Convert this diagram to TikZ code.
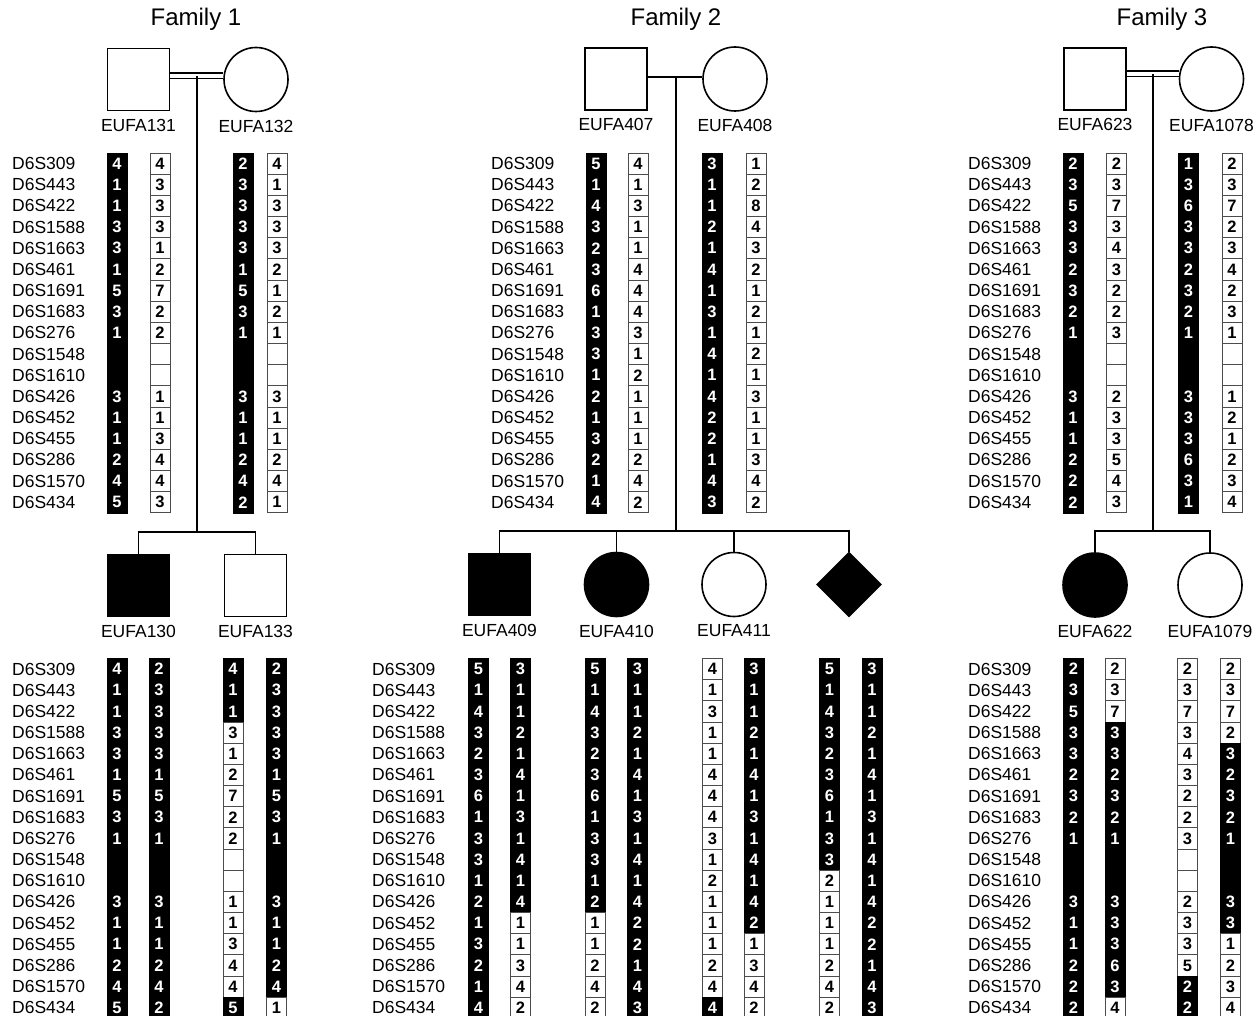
\documentclass[tikz,border=0pt]{standalone}
\usepackage{fontspec}
\setmainfont{Liberation Sans}
\usepackage{tikz}
\usetikzlibrary{positioning,shapes.geometric}

\newcommand{\lblfont}{\fontsize{17.5}{17.5}\selectfont}
\newcommand{\titlefont}{\fontsize{24}{24}\selectfont}
\newcommand{\digitfont}{\fontsize{16.5}{16.5}\selectfont\bfseries}
\newcommand{\rowh}{21.17}
\newcommand{\markerlist}{D6S309,D6S443,D6S422,D6S1588,D6S1663,D6S461,D6S1691,D6S1683,D6S276,D6S1548,D6S1610,D6S426,D6S452,D6S455,D6S286,D6S1570,D6S434}

% one allele cell: b = black (disease haplotype), w = white
\def\hapcell#1#2\relax#3#4#5#6{%
  \node[cell#1] (#3-#4) at (#5,{#6+(#4-0.5)*\rowh}) {#2};}
\newcommand{\hapcol}[4]{%
  \foreach \e [count=\n] in {#4}{\expandafter\hapcell\e\relax{#1}{\n}{#2}{#3}}}
\newcommand{\markcol}[3]{%
  \foreach \m [count=\n] in \markerlist{\node[mk] (#1-\n) at (#2,{#3+(\n-0.5)*\rowh}) {\m};}}

\begin{document}
\begin{tikzpicture}[x=1pt, y=-1pt,
    male/.style={rectangle, draw, line width=1.6pt, minimum size=62pt, inner sep=0pt},
    female/.style={circle, draw, line width=1.6pt, minimum size=64pt, inner sep=0pt},
    unkn/.style={diamond, draw, line width=1.6pt, minimum size=64pt, aspect=1, inner sep=0pt},
    aff/.style={fill=black},
    conn/.style={line width=1.6pt},
    dbl/.style={double, double distance=4pt, line width=1.5pt},
    lbl/.style={font=\lblfont},
    mk/.style={anchor=west, inner sep=0pt, font=\lblfont},
    famtitle/.style={font=\titlefont},
    cellb/.style={fill=black, draw=black, line width=0.4pt, text=white, minimum width=20pt,
      minimum height=21.17pt, inner sep=0pt, font=\digitfont},
    cellw/.style={fill=white, draw=black!70, line width=0.8pt, text=black, minimum width=20pt,
      minimum height=21.17pt, inner sep=0pt, font=\digitfont}]
  \useasboundingbox (0,0) rectangle (1258,1016);

  % titles
  \node[famtitle] (t1) at (196,19)  {Family 1};
  \node[famtitle] (t2) at (676,19)  {Family 2};
  \node[famtitle] (t3) at (1162,19) {Family 3};

  % ---- Family 1 ----
  \node[male]   (f1fa) at (138.5,79.5) {};
  \node[female] (f1mo) at (256,79.5)   {};
  \node[lbl, below=4pt of f1fa] (f1faL) {EUFA131};
  \node[lbl, below=4pt of f1mo] (f1moL) {EUFA132};
  \node[male, aff] (f1c1) at (138.5,585.5) {};
  \node[male]      (f1c2) at (255.5,585.5) {};
  \node[lbl, below=4pt of f1c1] (f1c1L) {EUFA130};
  \node[lbl, below=4pt of f1c2] (f1c2L) {EUFA133};
  \coordinate (f1m) at (197,76);
  \coordinate (f1s) at (197,532);
  \draw[dbl] ([yshift=3.5pt]f1fa.east) -- ([yshift=3.5pt]f1mo.west);
  \draw[conn] (f1m) -- (f1s);
  \draw[conn] (f1c1.north) |- (f1s) -| (f1c2.north);

  % ---- Family 2 ----
  \node[male]   (f2fa) at (616,79) {};
  \node[female] (f2mo) at (735,79) {};
  \node[lbl, below=4pt of f2fa] (f2faL) {EUFA407};
  \node[lbl, below=4pt of f2mo] (f2moL) {EUFA408};
  \node[male, aff]   (f2c1) at (499.5,584.5) {};
  \node[female, aff] (f2c2) at (616.5,584.5) {};
  \node[female]      (f2c3) at (734,584.5)   {};
  \node[unkn, aff]   (f2c4) at (849,584.5)   {};
  \node[lbl, below=4pt of f2c1] (f2c1L) {EUFA409};
  \node[lbl, below=4pt of f2c2] (f2c2L) {EUFA410};
  \node[lbl, below=4pt of f2c3] (f2c3L) {EUFA411};
  \coordinate (f2m) at (676,77);
  \coordinate (f2s) at (676,531);
  \draw[conn] ([yshift=2pt]f2fa.east) -- ([yshift=2pt]f2mo.west);
  \draw[conn] (f2m) -- (f2s);
  \draw[conn] (f2c1.north) |- (f2s) -| (f2c4.north);
  \draw[conn] (f2c2.north) -- (f2c2.north |- f2s);
  \draw[conn] (f2c3.north) -- (f2c3.north |- f2s);

  % ---- Family 3 ----
  \node[male]   (f3fa) at (1095,79)   {};
  \node[female] (f3mo) at (1211.5,79) {};
  \node[lbl, below=4pt of f3fa] (f3faL) {EUFA623};
  \node[lbl, below=4pt of f3mo] (f3moL) {EUFA1078};
  \node[female, aff] (f3c1) at (1095,585) {};
  \node[female]      (f3c2) at (1210,585) {};
  \node[lbl, below=4pt of f3c1] (f3c1L) {EUFA622};
  \node[lbl, below=4pt of f3c2] (f3c2L) {EUFA1079};
  \coordinate (f3m) at (1153,74);
  \coordinate (f3s) at (1153,531);
  \draw[dbl] ([yshift=5pt]f3fa.east) -- ([yshift=5pt]f3mo.west);
  \draw[conn] (f3m) -- (f3s);
  \draw[conn] (f3c1.north) |- (f3s) -| (f3c2.north);

  % marker names
  \markcol{mk1}{12}{153}
  \markcol{mk2}{491}{153}
  \markcol{mk3}{968}{153}
  \markcol{mk4}{12}{658.5}
  \markcol{mk5}{372}{658.5}
  \markcol{mk6}{968}{658.5}

  % parents' haplotypes
  \hapcol{f1aA}{117}{153}{b4,b1,b1,b3,b3,b1,b5,b3,b1,b,b,b3,b1,b1,b2,b4,b5}
  \hapcol{f1aB}{160}{153}{w4,w3,w3,w3,w1,w2,w7,w2,w2,w,w,w1,w1,w3,w4,w4,w3}
  \hapcol{f1bA}{243}{153}{b2,b3,b3,b3,b3,b1,b5,b3,b1,b,b,b3,b1,b1,b2,b4,b2}
  \hapcol{f1bB}{277}{153}{w4,w1,w3,w3,w3,w2,w1,w2,w1,w,w,w3,w1,w1,w2,w4,w1}

  \hapcol{f2aA}{596}{153}{b5,b1,b4,b3,b2,b3,b6,b1,b3,b3,b1,b2,b1,b3,b2,b1,b4}
  \hapcol{f2aB}{638}{153}{w4,w1,w3,w1,w1,w4,w4,w4,w3,w1,w2,w1,w1,w1,w2,w4,w2}
  \hapcol{f2bA}{712}{153}{b3,b1,b1,b2,b1,b4,b1,b3,b1,b4,b1,b4,b2,b2,b1,b4,b3}
  \hapcol{f2bB}{756}{153}{w1,w2,w8,w4,w3,w2,w1,w2,w1,w2,w1,w3,w1,w1,w3,w4,w2}

  \hapcol{f3aA}{1073}{153}{b2,b3,b5,b3,b3,b2,b3,b2,b1,b,b,b3,b1,b1,b2,b2,b2}
  \hapcol{f3aB}{1116.5}{153}{w2,w3,w7,w3,w4,w3,w2,w2,w3,w,w,w2,w3,w3,w5,w4,w3}
  \hapcol{f3bA}{1188.5}{153}{b1,b3,b6,b3,b3,b2,b3,b2,b1,b,b,b3,b3,b3,b6,b3,b1}
  \hapcol{f3bB}{1232}{153}{w2,w3,w7,w2,w3,w4,w2,w3,w1,w,w,w1,w2,w1,w2,w3,w4}

  % children's haplotypes
  \hapcol{f1cA}{117}{658.5}{b4,b1,b1,b3,b3,b1,b5,b3,b1,b,b,b3,b1,b1,b2,b4,b5}
  \hapcol{f1cB}{159}{658.5}{b2,b3,b3,b3,b3,b1,b5,b3,b1,b,b,b3,b1,b1,b2,b4,b2}
  \hapcol{f1dA}{233}{658.5}{b4,b1,b1,w3,w1,w2,w7,w2,w2,w,w,w1,w1,w3,w4,w4,b5}
  \hapcol{f1dB}{276.5}{658.5}{b2,b3,b3,b3,b3,b1,b5,b3,b1,b,b,b3,b1,b1,b2,b4,w1}

  \hapcol{f2cA}{478.5}{658.5}{b5,b1,b4,b3,b2,b3,b6,b1,b3,b3,b1,b2,b1,b3,b2,b1,b4}
  \hapcol{f2cB}{520.5}{658.5}{b3,b1,b1,b2,b1,b4,b1,b3,b1,b4,b1,b4,w1,w1,w3,w4,w2}
  \hapcol{f2dA}{595}{658.5}{b5,b1,b4,b3,b2,b3,b6,b1,b3,b3,b1,b2,w1,w1,w2,w4,w2}
  \hapcol{f2dB}{637.5}{658.5}{b3,b1,b1,b2,b1,b4,b1,b3,b1,b4,b1,b4,b2,b2,b1,b4,b3}
  \hapcol{f2eA}{712.5}{658.5}{w4,w1,w3,w1,w1,w4,w4,w4,w3,w1,w2,w1,w1,w1,w2,w4,b4}
  \hapcol{f2eB}{754}{658.5}{b3,b1,b1,b2,b1,b4,b1,b3,b1,b4,b1,b4,b2,w1,w3,w4,w2}
  \hapcol{f2fA}{829.5}{658.5}{b5,b1,b4,b3,b2,b3,b6,b1,b3,b3,w2,w1,w1,w1,w2,w4,w2}
  \hapcol{f2fB}{872}{658.5}{b3,b1,b1,b2,b1,b4,b1,b3,b1,b4,b1,b4,b2,b2,b1,b4,b3}

  \hapcol{f3cA}{1073.5}{658.5}{b2,b3,b5,b3,b3,b2,b3,b2,b1,b,b,b3,b1,b1,b2,b2,b2}
  \hapcol{f3cB}{1115}{658.5}{w2,w3,w7,b3,b3,b2,b3,b2,b1,b,b,b3,b3,b3,b6,b3,w4}
  \hapcol{f3dA}{1187.5}{658.5}{w2,w3,w7,w3,w4,w3,w2,w2,w3,w,w,w2,w3,w3,w5,b2,b2}
  \hapcol{f3dB}{1230.5}{658.5}{w2,w3,w7,w2,b3,b2,b3,b2,b1,b,b,b3,b3,w1,w2,w3,w4}
\end{tikzpicture}
\end{document}
